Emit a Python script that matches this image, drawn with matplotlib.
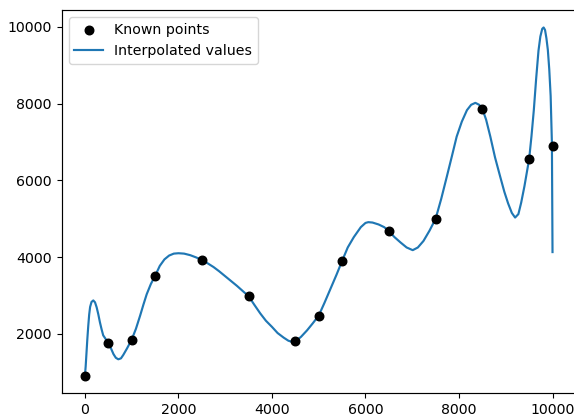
import matplotlib
matplotlib.use("Agg")
import matplotlib.pyplot as plt

# known points
known_x = [0, 500, 1000, 1500, 2500, 3500, 4500, 5000, 5500, 6500, 7500, 8500, 9500, 10000]
known_y = [910, 1760, 1850, 3510, 3920, 2980, 1800, 2475, 3900, 4675, 5000, 7860, 6555, 6890]

# interpolated curve
curve_x = [0, 15, 30, 50, 70, 90, 110, 140, 178, 215, 250, 285, 320, 355, 390, 445,
           500, 560, 610, 660, 713, 770, 820, 900, 1000, 1090, 1180, 1250, 1320, 1410,
           1500, 1600, 1700, 1800, 1900, 2000, 2120, 2250, 2380, 2500, 2620, 2750,
           2870, 3000, 3120, 3250, 3370, 3500, 3620, 3750, 3870, 4000, 4120, 4250,
           4350, 4450, 4500, 4620, 4750, 4870, 5000, 5120, 5250, 5380, 5500, 5620,
           5750, 5900, 6000, 6060, 6150, 6280, 6400, 6500, 6620, 6750, 6880, 7010,
           7120, 7240, 7370, 7500, 7620, 7740, 7850, 7950, 8060, 8170, 8260, 8350,
           8430, 8500, 8580, 8670, 8770, 8880, 8970, 9050, 9130, 9200, 9270, 9330,
           9400, 9500, 9550, 9600, 9650, 9700, 9740, 9780, 9810, 9840, 9870, 9900,
           9930, 9960, 9987, 10000]
curve_y = [920, 1150, 1450, 1850, 2200, 2500, 2700, 2830, 2870, 2820, 2690, 2510, 2300,
           2120, 1960, 1860, 1760, 1610, 1470, 1375, 1335, 1360, 1450, 1620, 1850, 2130,
           2475, 2760, 3030, 3300, 3510, 3770, 3940, 4040, 4090, 4100, 4090, 4050,
           3990, 3925, 3840, 3740, 3630, 3500, 3380, 3250, 3120, 2980, 2760, 2530,
           2340, 2180, 2020, 1900, 1820, 1780, 1800, 1920, 2090, 2270, 2475, 2800,
           3170, 3540, 3900, 4250, 4520, 4780, 4890, 4910, 4900, 4850, 4780, 4676,
           4520, 4380, 4250, 4180, 4250, 4420, 4690, 5000, 5520, 6100, 6640, 7140,
           7530, 7830, 7970, 8020, 7970, 7860, 7580, 7140, 6600, 6100, 5700, 5400,
           5150, 5030, 5120, 5420, 5850, 6555, 7150, 7830, 8650, 9380, 9750, 9950,
           9985, 9920, 9700, 9400, 8900, 8200, 6970, 4130]

plt.rcParams['font.size'] = 10.2
fig = plt.figure(figsize=(5.74, 4.19), dpi=100)
ax = fig.add_axes([0.1073, 0.062, 0.896, 0.914])

ax.scatter(known_x, known_y, color='black', s=38, zorder=3, label='Known points')
ax.plot(curve_x, curve_y, color='#1f77b4', linewidth=1.55, label='Interpolated values')
for s in ax.spines.values():
    s.set_linewidth(0.85)
ax.legend(loc='upper left')

fig.savefig('out.png', dpi=100)
